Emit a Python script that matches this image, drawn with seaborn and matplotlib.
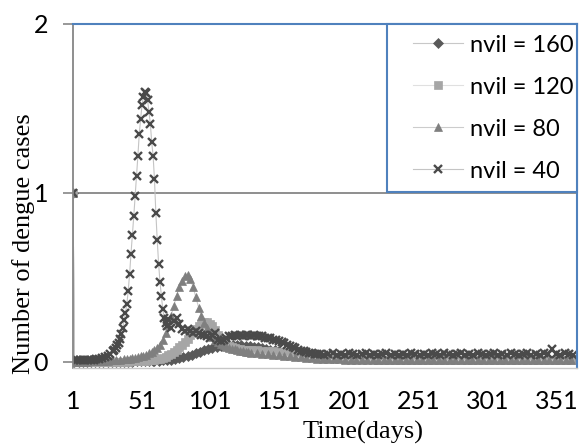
import matplotlib
matplotlib.use("Agg")
import matplotlib.pyplot as plt
from matplotlib.patches import Rectangle
import seaborn as sns

# ---------------- data ----------------
labels = ["nvil = 160", "nvil = 120", "nvil = 80", "nvil = 40"]
x_tick_labels = [1, 51, 101, 151, 201, 251, 301, 351]
y_ticks = [0, 1, 2]

# nvil = 160 (diamond)
days_160 = [1] + list(range(2, 60, 3)) + list(range(60, 200, 3)) + list(range(200, 366, 5))
vals_160 = ([1.0] +
            [0.0, 0.0, 0.0, 0.0, 0.0, 0.0, 0.0, 0.0, 0.0, 0.0,
             0.0, 0.0, 0.0, 0.0, 0.0, 0.001, 0.001, 0.001, 0.002, 0.002] +
            [0.003, 0.004, 0.006, 0.008, 0.011, 0.015, 0.02, 0.026, 0.033, 0.041,
             0.05, 0.058, 0.066, 0.074, 0.08, 0.086, 0.09, 0.093, 0.095, 0.096,
             0.096, 0.095, 0.093, 0.09, 0.087, 0.083, 0.079, 0.075, 0.071, 0.067,
             0.063, 0.059, 0.055, 0.051, 0.047, 0.043, 0.04, 0.037, 0.034, 0.031,
             0.029, 0.027, 0.025, 0.023, 0.022, 0.021, 0.02] +
            [0.02, 0.02, 0.019, 0.019, 0.018, 0.018, 0.018, 0.017, 0.017, 0.017,
             0.016, 0.016, 0.016, 0.016, 0.015, 0.015, 0.015, 0.015, 0.015, 0.015,
             0.014, 0.014, 0.014, 0.014, 0.014, 0.014, 0.014, 0.013, 0.013, 0.013,
             0.013, 0.013, 0.013, 0.013])

# nvil = 120 (square)
days_120 = [1] + list(range(2, 50, 3)) + list(range(50, 130, 2)) + list(range(130, 366, 4))
vals_120 = ([1.0] +
            [0.0, 0.0, 0.0, 0.0, 0.0, 0.0, 0.0, 0.0, 0.0, 0.0,
             0.0, 0.0, 0.0, 0.0, 0.001, 0.001] +
            [0.002, 0.003, 0.004, 0.006, 0.008, 0.01, 0.013, 0.017, 0.022, 0.028,
             0.036, 0.046, 0.057, 0.07, 0.084, 0.1, 0.117, 0.135, 0.155, 0.175,
             0.195, 0.212, 0.225, 0.232, 0.233, 0.225, 0.208, 0.185, 0.16, 0.135,
             0.115, 0.1, 0.09, 0.083, 0.078, 0.075, 0.073, 0.071, 0.07, 0.069] +
            [0.068, 0.066, 0.064, 0.062, 0.06, 0.057, 0.054, 0.05, 0.046, 0.042,
             0.038, 0.034, 0.03, 0.027, 0.024, 0.021, 0.019, 0.017, 0.015, 0.014,
             0.013, 0.012, 0.012, 0.011, 0.011, 0.011, 0.01, 0.01, 0.01, 0.01,
             0.01, 0.01, 0.01, 0.01, 0.01, 0.01, 0.01, 0.01, 0.01, 0.01,
             0.01, 0.01, 0.01, 0.01, 0.01, 0.01, 0.01, 0.01, 0.01, 0.01,
             0.01, 0.01, 0.01, 0.01, 0.01, 0.01, 0.01, 0.01, 0.01])

# nvil = 80 (triangle)
days_80 = [1] + list(range(2, 40, 3)) + list(range(40, 130, 2)) + list(range(130, 366, 4))
vals_80 = ([1.0] +
           [0.0, 0.0, 0.0, 0.0, 0.001, 0.001, 0.002, 0.003, 0.004, 0.006,
            0.008, 0.01, 0.012] +
           [0.014, 0.016, 0.019, 0.022, 0.026, 0.03, 0.035, 0.041, 0.048, 0.056,
            0.066, 0.08, 0.1, 0.13, 0.17, 0.215, 0.27, 0.33, 0.39, 0.44,
            0.48, 0.505, 0.515, 0.49, 0.44, 0.38, 0.32, 0.27, 0.23, 0.2,
            0.17, 0.145, 0.128, 0.114, 0.103, 0.095, 0.088, 0.082, 0.077, 0.072,
            0.068, 0.064, 0.06, 0.057, 0.054] +
           [0.052, 0.048, 0.045, 0.042, 0.039, 0.036, 0.033, 0.03, 0.027, 0.024,
            0.021, 0.019, 0.017, 0.015, 0.014, 0.013, 0.012, 0.011, 0.01, 0.01,
            0.01, 0.009, 0.009, 0.009, 0.009, 0.009, 0.008, 0.008, 0.008, 0.008,
            0.008, 0.008, 0.008, 0.008, 0.008, 0.008, 0.008, 0.008, 0.008, 0.008,
            0.008, 0.008, 0.008, 0.008, 0.008, 0.008, 0.008, 0.008, 0.008, 0.008,
            0.008, 0.008, 0.008, 0.008, 0.008, 0.008, 0.008, 0.008, 0.008])

# nvil = 40 (cross)
days_40 = [1] + list(range(2, 31, 2)) + list(range(31, 70)) + list(range(70, 180, 2)) + list(range(180, 366, 3))
vals_40 = ([1.0] +
           [0.01, 0.008, 0.008, 0.008, 0.008, 0.009, 0.01, 0.011, 0.013, 0.016,
            0.02, 0.025, 0.033, 0.045, 0.06] +
           [0.07, 0.08, 0.095, 0.11, 0.135, 0.165, 0.2, 0.245, 0.29, 0.34,
            0.42, 0.52, 0.64, 0.75, 0.86, 0.98, 1.10, 1.22, 1.35, 1.44,
            1.52, 1.57, 1.60, 1.59, 1.55, 1.48, 1.41, 1.30, 1.22, 1.08,
            0.88, 0.72, 0.58, 0.47, 0.39, 0.31, 0.26, 0.23, 0.21] +
           [0.25, 0.2, 0.24, 0.26, 0.22, 0.19, 0.18, 0.19, 0.18, 0.17,
            0.18, 0.17, 0.16, 0.16, 0.15, 0.14, 0.16, 0.17, 0.13, 0.12,
            0.13, 0.14, 0.15, 0.15, 0.16, 0.15, 0.16, 0.15, 0.16, 0.16,
            0.15, 0.16, 0.15, 0.15, 0.15, 0.14, 0.14, 0.14, 0.13, 0.13,
            0.12, 0.115, 0.11, 0.1, 0.09, 0.085, 0.08, 0.07, 0.065, 0.06,
            0.055, 0.05, 0.05, 0.045, 0.045] +
           [0.045, 0.04, 0.045, 0.05, 0.04, 0.045, 0.04, 0.05, 0.045, 0.04,
            0.045, 0.05, 0.04, 0.045, 0.04, 0.045, 0.05, 0.04, 0.045, 0.04,
            0.045, 0.04, 0.05, 0.045, 0.04, 0.045, 0.04, 0.05, 0.045, 0.04,
            0.05, 0.045, 0.04, 0.045, 0.05, 0.04, 0.045, 0.04, 0.05, 0.045,
            0.04, 0.045, 0.05, 0.04, 0.045, 0.04, 0.05, 0.045, 0.04, 0.045,
            0.05, 0.04, 0.045, 0.04, 0.05, 0.045, 0.075, 0.045, 0.04, 0.05,
            0.045, 0.04])

series = [
    (days_160, vals_160, labels[0]),
    (days_120, vals_120, labels[1]),
    (days_80, vals_80, labels[2]),
    (days_40, vals_40, labels[3]),
]

# ---------------- styling ----------------
styles = {
    "nvil = 160": dict(marker="D", ms=4.8, mfc="#595959", mec="#595959", mew=0.5, lc="#c8c8c8"),
    "nvil = 120": dict(marker="s", ms=5.5, mfc="#a6a6a6", mec="#a6a6a6", mew=0.5, lc="#e0e0e0"),
    "nvil = 80": dict(marker="^", ms=6.3, mfc="#7f7f7f", mec="#7f7f7f", mew=0.5, lc="#cccccc"),
    "nvil = 40": dict(marker="x", ms=6.2, mfc="#4a4a4a", mec="#4a4a4a", mew=1.7, lc="#c4c4c4"),
}

LABEL_FONT = "Lato"
SERIF = "Liberation Serif"

fig = plt.figure(figsize=(5.83, 4.45), dpi=100)
W, H = 583, 445
x0, x1, y_top, y_bot = 73, 577, 24, 368
ax = fig.add_axes([x0 / W, 1 - y_bot / H, (x1 - x0) / W, (y_bot - y_top) / H])

for d, v, lab in series:
    st = styles[lab]
    sns.lineplot(x=d, y=v, ax=ax, label=lab, color=st["lc"], linewidth=0.8,
                 marker=st["marker"], markersize=st["ms"],
                 markerfacecolor=st["mfc"], markeredgecolor=st["mec"],
                 markeredgewidth=st["mew"], estimator=None, sort=False)

ax.set_xlim(1, 366)
ax.set_ylim(-0.0385, 2)

ax.set_xticks(x_tick_labels)
ax.set_xticklabels([str(t) for t in x_tick_labels], fontsize=18, family=LABEL_FONT)
ax.set_yticks(y_ticks)
ax.set_yticklabels([str(t) for t in y_ticks], fontsize=18, family=LABEL_FONT)
ax.tick_params(axis="x", length=0, pad=16, colors="black")
ax.tick_params(axis="y", direction="out", length=7, width=1.2, color="#868686", pad=11)

# grid line at 1
ax.axhline(1, color="#868686", lw=1.3, zorder=0.5)

# spines
for s in ("top", "right"):
    ax.spines[s].set_color("#4F81BD")
    ax.spines[s].set_linewidth(1.5)
ax.spines["left"].set_color("#868686")
ax.spines["left"].set_linewidth(1.3)
ax.spines["bottom"].set_color("#c8c8c8")
ax.spines["bottom"].set_linewidth(1.0)
ax.spines["bottom"].set_linestyle((0, (1, 1)))

ax.set_xlabel("Time(days)", fontsize=19, family=SERIF)
ax.set_ylabel("Number of dengue cases", fontsize=19, family=SERIF)
ax.xaxis.set_label_coords((363 - x0) / (x1 - x0), -0.154)
ax.yaxis.set_label_coords((35 - x0) / (x1 - x0), (y_bot - 244) / (y_bot - y_top))

# legend box
bx0 = (387 - x0) / (x1 - x0)
by0 = (y_bot - 192) / (y_bot - y_top)
ax.add_patch(Rectangle((bx0, by0), 1.0 - bx0, 1.0 - by0, transform=ax.transAxes,
                       facecolor="white", edgecolor="#4F81BD", lw=1.5, zorder=5,
                       clip_on=False))
handles, labs = ax.get_legend_handles_labels()
leg = ax.legend(handles, labs, loc="upper left",
                bbox_to_anchor=((413 - x0) / (x1 - x0), (y_bot - 34.5) / (y_bot - y_top)),
                frameon=False, prop={"family": LABEL_FONT, "size": 17},
                handlelength=2.1, handletextpad=0.3, labelspacing=0.89,
                borderpad=0, borderaxespad=0)
leg.set_zorder(6)

fig.savefig("out.png", dpi=100)
